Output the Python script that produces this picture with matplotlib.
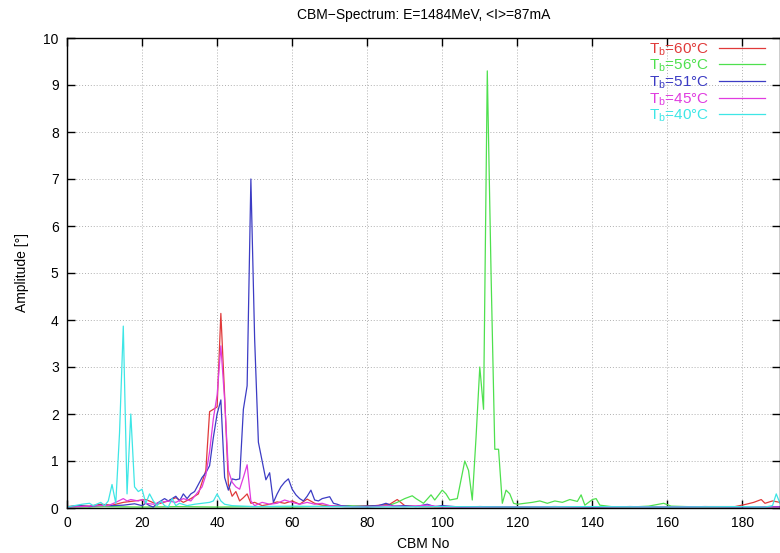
import matplotlib
matplotlib.use("Agg")
import matplotlib.pyplot as plt

plt.rcParams['font.family'] = ['Liberation Sans', 'DejaVu Sans']
plt.rcParams['mathtext.fontset'] = 'custom'
plt.rcParams['mathtext.rm'] = 'Liberation Sans'

# CBM spectra for five bunch temperatures (CBM number, amplitude in degrees)
labels = ['T$_\\mathrm{b}$=60°C', 'T$_\\mathrm{b}$=56°C', 'T$_\\mathrm{b}$=51°C',
          'T$_\\mathrm{b}$=45°C', 'T$_\\mathrm{b}$=40°C']
colors = ['#e03a3a', '#4ee04e', '#3c3cc4', '#e03ce0', '#3ee6e6']

red_x = [0, 3, 6, 9, 12, 15, 18, 21, 24, 27, 29, 31, 33, 35, 36, 37, 38, 39, 40, 41,
         42, 43, 44, 45, 46, 47, 48, 49, 50, 52, 54, 56, 58, 60, 62, 64, 66, 68, 70,
         74, 78, 82, 86, 88, 90, 94, 100, 110, 120, 130, 140, 150, 160, 170, 178,
         181, 183, 185, 186, 188, 190]
red_y = [0.03, 0.05, 0.04, 0.08, 0.06, 0.12, 0.15, 0.18, 0.08, 0.15, 0.22, 0.12, 0.2,
         0.3, 0.55, 0.8, 2.05, 2.1, 2.15, 4.14, 2.4, 0.5, 0.25, 0.35, 0.15, 0.22, 0.3,
         0.1, 0.12, 0.05, 0.08, 0.13, 0.1, 0.15, 0.08, 0.19, 0.1, 0.06, 0.05, 0.03,
         0.04, 0.05, 0.08, 0.18, 0.05, 0.03, 0.02, 0.03, 0.02, 0.03, 0.02, 0.03, 0.02,
         0.03, 0.03, 0.08, 0.12, 0.18, 0.1, 0.15, 0.12]

green_x = [0, 5, 10, 20, 30, 40, 50, 60, 70, 75, 80, 84, 86, 88, 90, 92, 93, 95, 97,
           98, 100, 101, 102, 104, 106, 107, 108, 109, 110, 111, 112, 113, 114, 115,
           116, 117, 118, 119, 120, 124, 126, 128, 130, 132, 134, 136, 137, 138, 140,
           141, 142, 145, 150, 155, 159, 161, 165, 170, 180, 190]
green_y = [0.02, 0.02, 0.03, 0.02, 0.03, 0.02, 0.03, 0.02, 0.04, 0.05, 0.03, 0.05,
           0.06, 0.12, 0.2, 0.26, 0.2, 0.1, 0.28, 0.17, 0.38, 0.3, 0.17, 0.2, 1.0, 0.8,
           0.17, 1.5, 3.0, 2.1, 9.3, 5.0, 1.25, 1.25, 0.1, 0.38, 0.3, 0.1, 0.08, 0.12,
           0.15, 0.1, 0.15, 0.12, 0.18, 0.14, 0.28, 0.06, 0.18, 0.2, 0.06, 0.03, 0.02,
           0.04, 0.1, 0.04, 0.03, 0.02, 0.03, 0.02]

blue_x = [0, 3, 6, 9, 12, 15, 18, 20, 21, 22, 23, 24, 25, 26, 27, 28, 29, 30, 31, 32,
          33, 34, 35, 36, 37, 38, 39, 40, 41, 42, 43, 44, 45, 46, 47, 48, 49, 50, 51,
          52, 53, 54, 55, 56, 57, 58, 59, 60, 61, 62, 63, 64, 65, 66, 67, 68, 69, 70,
          71, 72, 73, 76, 80, 83, 85, 87, 90, 93, 96, 98, 100, 105, 110, 120, 130,
          140, 150, 160, 170, 180, 190]
blue_y = [0.02, 0.05, 0.03, 0.06, 0.05, 0.06, 0.09, 0.05, 0.1, 0.05, 0.02, 0.1, 0.15,
          0.2, 0.15, 0.2, 0.25, 0.15, 0.3, 0.2, 0.3, 0.35, 0.5, 0.65, 0.75, 0.9, 1.5,
          2.0, 2.3, 0.65, 0.38, 0.62, 0.6, 0.62, 2.1, 2.6, 7.0, 3.6, 1.4, 1.0, 0.6,
          0.75, 0.12, 0.3, 0.45, 0.55, 0.62, 0.4, 0.28, 0.2, 0.15, 0.25, 0.38, 0.17,
          0.15, 0.2, 0.22, 0.24, 0.1, 0.08, 0.05, 0.03, 0.04, 0.05, 0.1, 0.04, 0.05,
          0.03, 0.08, 0.03, 0.05, 0.02, 0.03, 0.02, 0.03, 0.02, 0.03, 0.02, 0.03,
          0.02, 0.03]

magenta_x = [0, 4, 8, 11, 13, 15, 16, 17, 19, 20, 21, 23, 25, 27, 29, 31, 33, 34, 35,
             36, 37, 38, 39, 40, 41, 42, 43, 44, 45, 46, 47, 48, 49, 50, 52, 54, 56,
             58, 60, 62, 64, 66, 68, 70, 75, 80, 85, 90, 96, 100, 120, 140, 160, 180,
             190]
magenta_y = [0.02, 0.03, 0.05, 0.05, 0.12, 0.2, 0.15, 0.18, 0.15, 0.18, 0.1, 0.08,
             0.12, 0.15, 0.12, 0.2, 0.15, 0.25, 0.35, 0.45, 0.7, 1.2, 1.9, 2.4, 3.45,
             2.3, 0.8, 0.55, 0.45, 0.4, 0.65, 0.92, 0.15, 0.05, 0.12, 0.08, 0.1, 0.17,
             0.12, 0.08, 0.12, 0.08, 0.1, 0.05, 0.03, 0.02, 0.05, 0.03, 0.06, 0.02,
             0.02, 0.03, 0.02, 0.03, 0.02]

cyan_x = [0, 2, 4, 6, 7, 9, 10, 11, 12, 13, 14, 15, 16, 17, 18, 19, 20, 21, 22, 23,
          24, 25, 26, 27, 28, 29, 30, 32, 34, 36, 38, 39, 40, 41, 42, 44, 50, 60, 70,
          80, 100, 120, 140, 160, 180, 186, 188, 189, 190]
cyan_y = [0.02, 0.05, 0.08, 0.1, 0.05, 0.12, 0.05, 0.15, 0.5, 0.1, 1.6, 3.87, 0.3,
          2.0, 0.45, 0.35, 0.4, 0.1, 0.3, 0.15, 0.05, 0.15, 0.05, 0.02, 0.2, 0.05,
          0.1, 0.05, 0.08, 0.1, 0.12, 0.15, 0.3, 0.15, 0.08, 0.05, 0.03, 0.04, 0.03,
          0.02, 0.03, 0.02, 0.03, 0.02, 0.03, 0.02, 0.05, 0.3, 0.1]

series = [(red_x, red_y), (green_x, green_y), (blue_x, blue_y),
          (magenta_x, magenta_y), (cyan_x, cyan_y)]

fig = plt.figure(figsize=(7.8, 5.53), dpi=100)
ax = fig.add_axes([67 / 780, 45 / 553, 713 / 780, 470 / 553])

for (xs, ys), lab, col in zip(series, labels, colors):
    ax.plot(xs, ys, color=col, lw=0.9, label=lab)

ax.set_xlim(0, 190)
ax.set_ylim(0, 10)
ax.set_xticks(range(0, 181, 20))
ax.set_yticks(range(0, 11))
ax.grid(True, color='#b0b0b0', linestyle=(0, (1, 2)), lw=0.7)
ax.tick_params(direction='in', length=6, width=1, top=True, right=True,
               labelsize=10, pad=6)
for sp in ax.spines.values():
    sp.set_linewidth(1.0)

ax.set_title('CBM\u2212Spectrum: E=1484MeV, <I>=87mA', fontsize=10, pad=14)
ax.set_ylabel('Amplitude [°]', fontsize=10, labelpad=10)
ax.set_xlabel('CBM No', fontsize=10, labelpad=5)

leg = ax.legend(loc='upper right', bbox_to_anchor=(0.99, 1.01), frameon=False,
                markerfirst=False, labelcolor='linecolor', fontsize=11,
                handlelength=3.0, handletextpad=0.7, labelspacing=0.0,
                borderaxespad=0.1)

fig.savefig('out.png', dpi=100)
